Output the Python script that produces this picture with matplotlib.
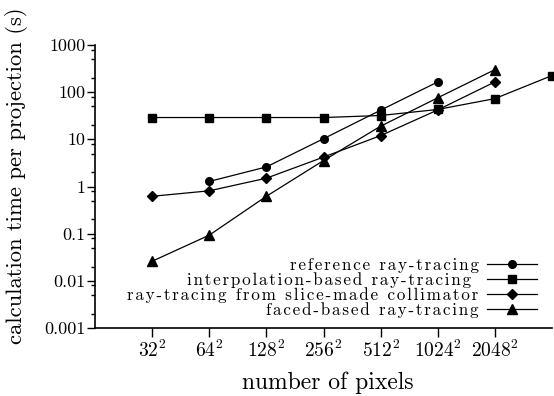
import numpy as np
import matplotlib.pyplot as plt
from matplotlib.ticker import FixedLocator, FixedFormatter, NullFormatter

plt.rcParams['font.family'] = ['cmr10', 'DejaVu Serif']
plt.rcParams['mathtext.fontset'] = 'cm'
plt.rcParams['axes.formatter.use_mathtext'] = True

# x positions: index of image size 32^2 ... 4096^2
sizes = ['32', '64', '128', '256', '512', '1024', '2048']

ref_x = [1, 2, 3, 4, 5]
ref_y = [1.28, 2.6, 10.3, 41.5, 165]

interp_x = [0, 1, 2, 3, 4, 5, 6, 7]
interp_y = [29, 29, 29, 29, 32, 43, 73, 225]

slice_x = [0, 1, 2, 3, 4, 5, 6]
slice_y = [0.62, 0.81, 1.5, 4.2, 12, 42, 165]

faced_x = [0, 1, 2, 3, 4, 5, 6]
faced_y = [0.026, 0.093, 0.62, 3.55, 19, 76, 300]

labels = ['reference ray-tracing', 'interpolation-based ray-tracing ',
          'ray-tracing from slice-made collimator', 'faced-based ray-tracing']

ytick_vals = [0.001, 0.01, 0.1, 1, 10, 100, 1000]
ytick_labels = ['0.001', '0.01', '0.1', '1', '10', '100', '1000']


def spaced(s):
    # wide letter spacing like the original legend
    return '\u200a'.join(s)


fig = plt.figure(figsize=(5.54, 3.96), dpi=100)
ax = fig.add_axes([95/554, 68/396, 457/554, 283/396])

kw = dict(color='black', lw=0.9, clip_on=False)
ax.plot(ref_x, ref_y, marker='o', ms=5.5, label=spaced(labels[0]), **kw)
ax.plot(interp_x, interp_y, marker='s', ms=5.5, label=spaced(labels[1]), **kw)
ax.plot(slice_x, slice_y, marker='D', ms=5, label=spaced(labels[2]), **kw)
ax.plot(faced_x, faced_y, marker='^', ms=7.5, label=spaced(labels[3]), **kw)

ax.set_yscale('log')
ax.set_ylim(0.001, 1000)
ax.set_xlim(-1, 7)

ax.yaxis.set_major_locator(FixedLocator(ytick_vals))
ax.yaxis.set_major_formatter(FixedFormatter(ytick_labels))
minors = [m * 10.0**e for e in range(-3, 3) for m in (2, 5, 8)]
ax.yaxis.set_minor_locator(FixedLocator(minors))
ax.yaxis.set_minor_formatter(NullFormatter())
ax.tick_params(axis='y', which='major', direction='out', length=6, width=1.0, labelsize=13, pad=1)
ax.tick_params(axis='y', which='minor', direction='out', length=3, width=1.0)

ax.set_xticks(range(len(sizes)))
ax.set_xticklabels([f'${s}^2$' for s in sizes])
ax.tick_params(axis='x', which='major', direction='out', length=6.5, width=1.0, labelsize=14, pad=2)

for s in ['top', 'right']:
    ax.spines[s].set_visible(False)
for s in ['left', 'bottom']:
    ax.spines[s].set_linewidth(1.2)

ax.set_xlabel('number of pixels', fontsize=17)
ax.xaxis.set_label_coords(0.51, -0.155)
ax.set_ylabel('calculation time per projection (s)', fontsize=16.3)
ax.yaxis.set_label_coords(-0.147, 0.537)

ax.legend(loc='lower right', bbox_to_anchor=(0.985, 0.004), frameon=False, markerfirst=False,
          fontsize=12.3, handlelength=2.9, labelspacing=-0.05, handletextpad=0.5, borderpad=0)

fig.savefig('out.png', dpi=100)
